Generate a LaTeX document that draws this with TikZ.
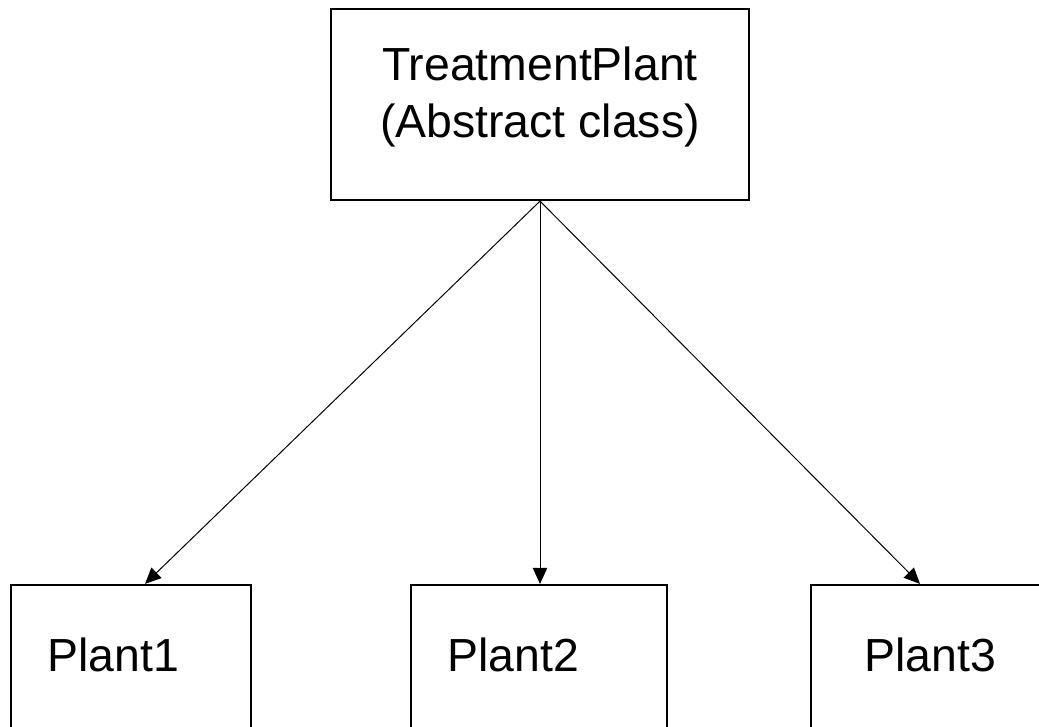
\documentclass[tikz,border=0pt]{standalone}
\usepackage{fontspec}
\setmainfont{Liberation Sans}
\usepackage{tikz}
\usetikzlibrary{calc}
\usetikzlibrary{arrows.meta}
\tikzstyle{classbox} = [rectangle, 
draw=black, 
line width=1.4pt, 
fill=white, 
inner sep=0pt]
\tikzstyle{classtext} = [inner sep=0pt, 
font=\fontsize{33}{40}\selectfont, 
align=center]
\tikzstyle{arrow} = [line width=0.7pt,-{Triangle[length=0.4cm,width=0.36cm]}]

\begin{document}
\begin{tikzpicture}[x=0.025cm, y=-0.025cm]
    \clip (0,0) rectangle (1039,726);
    \node (tp) [classbox, minimum width=10.45cm, minimum height=4.78cm] at (540,104.5) {};
    \node (tptext) [classtext] at (540,97) {TreatmentPlant\\(Abstract class)};

    \node (p1) [classbox, minimum width=6cm, minimum height=3.63cm] at (131,657.5) {};
    \node (p2) [classbox, minimum width=6.4cm, minimum height=3.63cm] at (539,657.5) {};
    \node (p3) [classbox, minimum width=6.4cm, minimum height=3.63cm] at (939,657.5) {};

    \node (p1text) [classtext, anchor=west] at (47,655) {Plant1};
    \node (p2text) [classtext, anchor=west] at (447,655) {Plant2};
    \node (p3text) [classtext, anchor=west] at (864,655) {Plant3};

    % Inheritance arcs
    \draw [arrow] (tp.south) -- ([xshift=0.35cm]p1.north);
    \draw [arrow] (tp.south) -- (tp.south |- p2.north);
    \draw [arrow] (tp.south) -- ([xshift=-0.475cm]p3.north);
\end{tikzpicture}
\end{document}
